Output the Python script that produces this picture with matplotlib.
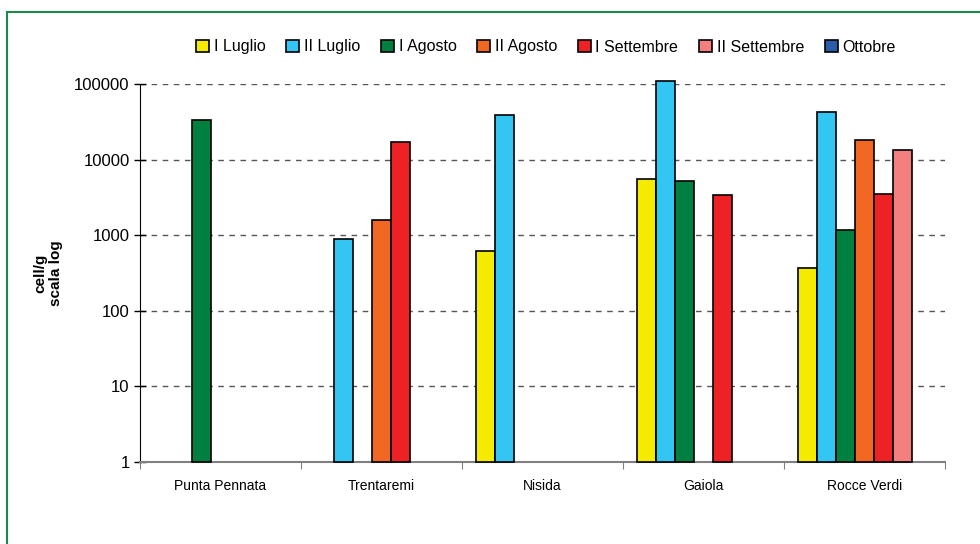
import matplotlib.pyplot as plt
import numpy as np
from matplotlib.patches import Rectangle

plt.rcParams['font.family'] = ['Liberation Sans', 'DejaVu Sans']

# Data (cell/g, log scale); nan = no bar
sites = ['Punta Pennata', 'Trentaremi', 'Nisida', 'Gaiola', 'Rocce Verdi']
series = ['I Luglio', 'II Luglio', 'I Agosto', 'II Agosto', 'I Settembre', 'II Settembre', 'Ottobre']
colors = ['#F5EB00', '#33C6F2', '#008040', '#F26722', '#EE2224', '#F47F7F', '#2A5CAA']

nan = np.nan
i_luglio = [nan, nan, 620, 5500, 370]
ii_luglio = [nan, 900, 39000, 110000, 42000]
i_agosto = [33000, nan, nan, 5200, 1160]
ii_agosto = [nan, 1600, nan, nan, 18000]
i_settembre = [nan, 17000, nan, 3400, 3500]
ii_settembre = [nan, nan, nan, nan, 13400]
ottobre = [nan, nan, nan, nan, nan]
values = [i_luglio, ii_luglio, i_agosto, ii_agosto, i_settembre, ii_settembre, ottobre]

fig = plt.figure(figsize=(9.8, 5.44), dpi=100)
ax = fig.add_axes([140 / 980, 1 - 462 / 544, (945 - 140) / 980, (462 - 84) / 544])
ax.set_yscale('log')

x = np.arange(len(sites))
w = 0.118
for i, (name, vals, c) in enumerate(zip(series, values, colors)):
    ax.bar(x + (i - 3) * w, vals, width=w, bottom=1, color=c, edgecolor='black',
           linewidth=1.2, label=name, clip_on=False, zorder=3)

ax.set_ylim(1, 100000)
ax.set_xlim(-0.5, len(sites) - 0.5)
ax.set_yticks([1, 10, 100, 1000, 10000, 100000])
ax.set_yticklabels(['1', '10', '100', '1000', '10000', '100000'], fontsize=12)
ax.yaxis.set_minor_locator(plt.NullLocator())
ax.tick_params(axis='y', direction='inout', length=8, width=1)

# category ticks at boundaries, labels at centers
ax.set_xticks(np.arange(len(sites) + 1) - 0.5)
ax.set_xticklabels([])
ax.set_xticks(x, minor=True)
ax.set_xticklabels(sites, minor=True, fontsize=10)
ax.tick_params(axis='x', which='major', direction='out', length=5, color='#808080')
ax.tick_params(axis='x', which='minor', length=0, pad=12)

for yv in [10, 100, 1000, 10000, 100000]:
    ax.axhline(yv, color='#555555', linestyle=(0, (4, 4)), linewidth=1, zorder=1)

ax.spines['top'].set_visible(False)
ax.spines['right'].set_visible(False)
ax.spines['left'].set_color('black')
ax.spines['bottom'].set_color('#808080')
ax.spines['bottom'].set_linewidth(1.5)

fig.text(48 / 980, 1 - 273 / 544, 'cell/g\nscala log', rotation=90, ha='center', va='center',
         fontsize=11, fontweight='bold')

leg = fig.legend(loc='center', bbox_to_anchor=(546 / 980, 1 - 47 / 544), ncol=7, frameon=False,
                 fontsize=11.5, handlelength=0.8, handleheight=0.8, handletextpad=0.3,
                 columnspacing=1.3, borderaxespad=0)
for h in leg.legend_handles:
    h.set_edgecolor('black')

# green border of the original frame
fig.patches.append(Rectangle((7 / 980, -0.1), 1.1, 1 - 12 / 544 + 0.1, transform=fig.transFigure,
                             fill=False, edgecolor='#1A8A4A', linewidth=1.5))

fig.savefig('out.png', dpi=100)
